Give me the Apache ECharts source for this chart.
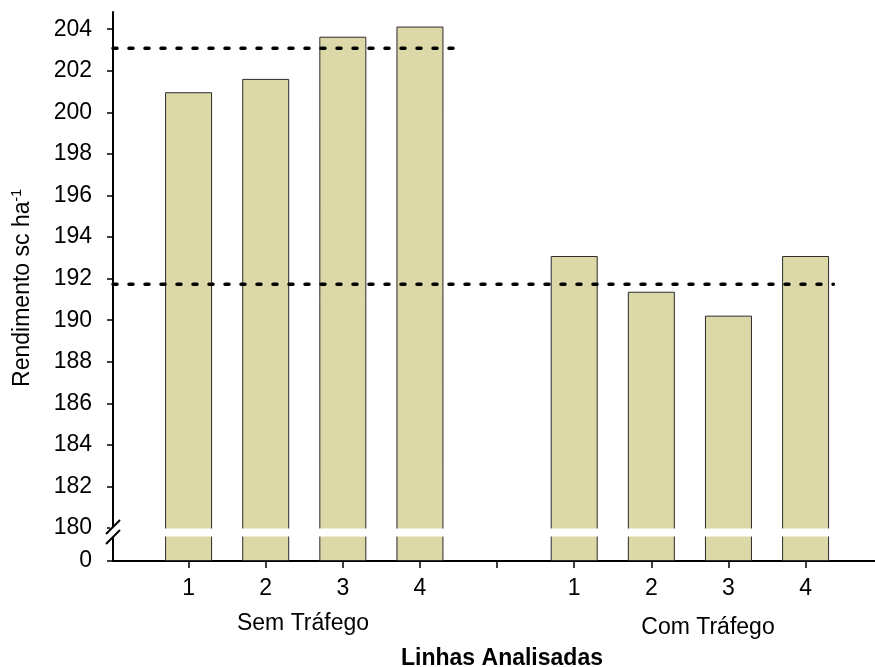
<!DOCTYPE html>
<html>
<head>
<meta charset="utf-8">
<script src="https://cdn.jsdelivr.net/npm/echarts@6/dist/echarts.min.js"></script>
<style>
html,body{margin:0;padding:0;background:#fff;}
#c{width:875px;height:667px;}
</style>
</head>
<body>
<div id="c"></div>
<script>
// ---- data ----
const lineLabels = ['1', '2', '3', '4'];
const groupNames = ['Sem Tráfego', 'Com Tráfego'];
const semValues = [200.97, 201.61, 203.64, 204.13];
const comValues = [193.09, 191.37, 190.22, 193.09];
const groupMeans = [203.09, 191.73];
const yTickValues = [0, 180, 182, 184, 186, 188, 190, 192, 194, 196, 198, 200, 202, 204];
const yTitle = 'Rendimento sc ha';
const xTitle = 'Linhas Analisadas';

// ---- layout helpers ----
const semPos = lineLabels.map((_, i) => i + 1);       // 1..4
const comPos = lineLabels.map((_, i) => i + 6);       // 6..9
const allTickPos = [1, 2, 3, 4, 5, 6, 7, 8, 9];
const labelMap = {};
semPos.forEach((p, i) => labelMap[p] = lineLabels[i]);
comPos.forEach((p, i) => labelMap[p] = lineLabels[i]);

const FONT = 'Liberation Sans, Arial, sans-serif';
const FS = 23;
const barColor = '#ddd8a8';
const breakStart = 1.2, breakEnd = 180;

const chart = echarts.init(document.getElementById('c'), null, {renderer: 'canvas'});

const barStyle = {color: barColor, borderColor: '#2a2a2a', borderWidth: 1};
const dashStyle = {color: '#000', width: 3.5, type: [4, 12], cap: 'round'};

chart.setOption({
  animation: false,
  backgroundColor: '#fff',
  grid: {left: 113, right: 0, top: 12, bottom: 106, containLabel: false},
  xAxis: {
    type: 'value',
    min: 0.02,
    max: 9.9,
    splitLine: {show: false},
    axisLine: {show: true, onZero: false, lineStyle: {color: '#000', width: 2}},
    axisTick: {show: true, length: 7, lineStyle: {color: '#000', width: 1.5}, customValues: allTickPos},
    axisLabel: {
      show: true, margin: 16, color: '#000', fontSize: FS, fontFamily: FONT,
      customValues: semPos.concat(comPos),
      formatter: v => labelMap[Math.round(v)] || ''
    }
  },
  yAxis: {
    type: 'value',
    min: 0,
    max: 204.83,
    splitLine: {show: false},
    breaks: [{start: breakStart, end: breakEnd, gap: '1.46%'}],
    breakArea: {
      show: true,
      itemStyle: {color: '#fff', borderColor: '#fff', borderWidth: 0, opacity: 1},
      zigzagAmplitude: 0,
      zigzagZ: 100,
      expandOnClick: false
    },
    axisLine: {show: true, onZero: false, lineStyle: {color: '#000', width: 2}},
    axisTick: {show: true, length: 6, lineStyle: {color: '#000', width: 1.5}, customValues: yTickValues},
    axisLabel: {
      show: true, margin: 21, color: '#000', fontSize: FS, fontFamily: FONT,
      customValues: yTickValues
    }
  },
  series: [
    {
      type: 'bar', name: groupNames[0], barWidth: 47,
      data: semValues.map((v, i) => [semPos[i], v]),
      itemStyle: barStyle, z: 2
    },
    {
      type: 'bar', name: groupNames[1], barWidth: 47, barGap: '-100%',
      data: comValues.map((v, i) => [comPos[i], v]),
      itemStyle: barStyle, z: 2
    },
    {
      type: 'line', symbol: 'none', z: 5,
      data: [[0.02, groupMeans[0]], [4.45, groupMeans[0]]],
      lineStyle: dashStyle
    },
    {
      type: 'line', symbol: 'none', z: 5,
      data: [[0.02, groupMeans[1]], [9.36, groupMeans[1]]],
      lineStyle: dashStyle
    }
  ]
});

// break marks "//" on the y axis, placed from the library's own scale
const pTop = chart.convertToPixel({gridIndex: 0}, [0.02, breakEnd]);
const pBot = chart.convertToPixel({gridIndex: 0}, [0.02, breakStart]);
const ax = pTop[0];
const yA = pTop[1] - 1, yB = pBot[1] + 1;
const slash = (yc) => ({
  type: 'line', z: 200,
  shape: {x1: ax - 7, y1: yc + 7, x2: ax + 7, y2: yc - 7},
  style: {stroke: '#000', lineWidth: 2}
});

chart.setOption({
  graphic: [
    {type: 'rect', z: 150, shape: {x: ax - 3, y: yA, width: 6, height: yB - yA}, style: {fill: '#fff'}},
    slash(yA),
    slash(yB),
    {type: 'text', x: 303, y: 624, style: {text: groupNames[0], font: FS + 'px ' + FONT, fill: '#000', align: 'center', verticalAlign: 'middle'}},
    {type: 'text', x: 708, y: 628, style: {text: groupNames[1], font: FS + 'px ' + FONT, fill: '#000', align: 'center', verticalAlign: 'middle'}},
    {type: 'text', x: 502, y: 659, style: {text: xTitle, font: 'bold ' + FS + 'px ' + FONT, fill: '#000', align: 'center', verticalAlign: 'middle'}},
    {type: 'text', x: 23, y: 288, rotation: Math.PI / 2,
      style: {
        text: '{a|' + yTitle + '}{b|-1}',
        align: 'center', verticalAlign: 'middle', fill: '#000',
        rich: {
          a: {fontSize: FS, fontFamily: FONT, lineHeight: 26, fill: '#000'},
          b: {fontSize: 14, fontFamily: FONT, lineHeight: 26, verticalAlign: 'top', fill: '#000'}
        }
      }}
  ]
});
</script>
</body>
</html>
